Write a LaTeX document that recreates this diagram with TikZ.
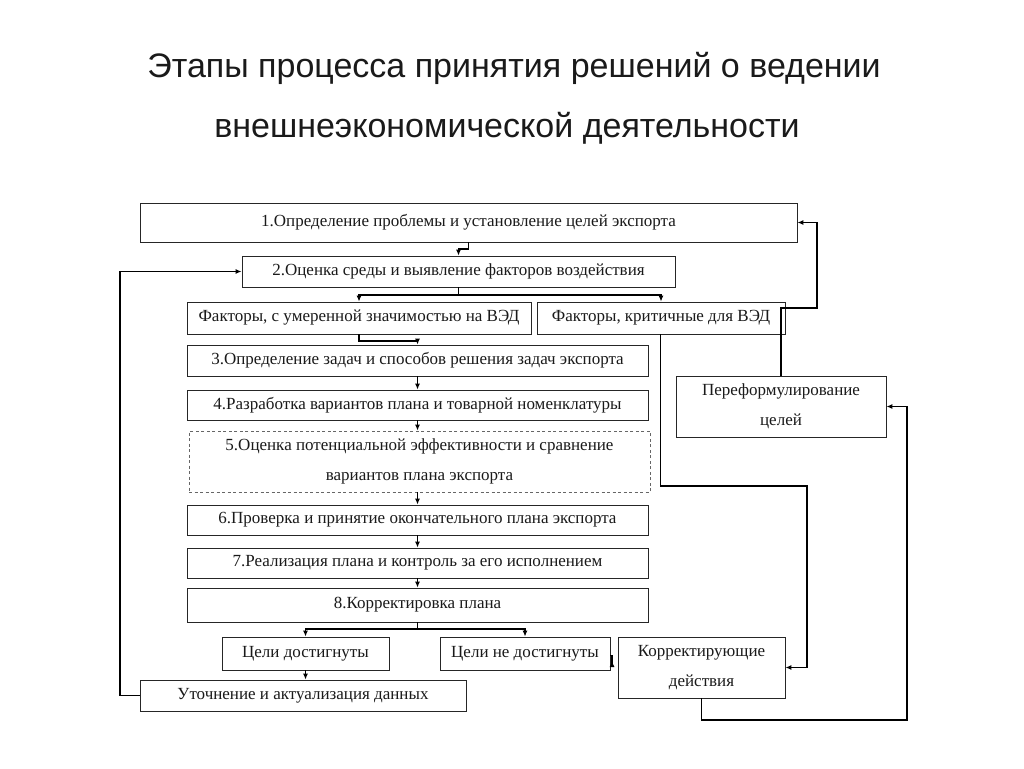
\documentclass[tikz,border=0pt]{standalone}
\usepackage{fontspec}
\setmainfont{Liberation Serif}
\newfontfamily\titlefont{Liberation Sans}
\usetikzlibrary{arrows.meta}
\definecolor{ink}{HTML}{1A1A1A}
\tikzset{
  box/.style={draw=black!85, line width=0.9pt, inner sep=0pt, align=center, text=ink,
    font=\fontsize{17}{30}\selectfont},
  dbox/.style={box, draw=black!60, dash pattern=on 3pt off 2.5pt},
  conn/.style={draw=black, line width=1.1pt},
  arr/.style={conn, -{Latex[length=6pt,width=5pt]}},
  rarr/.style={conn, -{Latex[length=6pt,width=5pt,reversed]}},
  ttl/.style={font=\titlefont\fontsize{34}{38}\selectfont, text=ink, inner sep=0pt}
}
\begin{document}
\begin{tikzpicture}[x=1pt,y=-1pt]
\useasboundingbox[fill=white] (0,0) rectangle (1024,768);
% title
\node[ttl] (t1) at (514,68) {Этапы процесса принятия решений о ведении};
\node[ttl] (t2) at (507,128) {внешнеэкономической деятельности};
% boxes
\node[box, minimum width=657, minimum height=39] (b1) at (468.5,222.5) {1.Определение проблемы и установление целей экспорта};
\node[box, minimum width=433, minimum height=31] (b2) at (458.5,271.5) {2.Оценка среды и выявление факторов воздействия};
\node[box, minimum width=344, minimum height=32] (fL) at (359,318) {Факторы, с умеренной значимостью на ВЭД};
\node[box, minimum width=248, minimum height=32] (fR) at (661,318) {Факторы, критичные для ВЭД};
\node[box, minimum width=461, minimum height=31] (b3) at (417.5,360.5) {3.Определение задач и способов решения задач экспорта};
\node[box, minimum width=461, minimum height=30] (b4) at (417.5,405) {4.Разработка вариантов плана и товарной номенклатуры};
\node[dbox, minimum width=461, minimum height=61] (b5) at (419.5,461.5) {5.Оценка потенциальной эффективности и сравнение\\вариантов плана экспорта};
\node[box, minimum width=461, minimum height=30] (b6) at (417.5,520) {6.Проверка и принятие окончательного плана экспорта};
\node[box, minimum width=461, minimum height=30] (b7) at (417.5,563) {7.Реализация плана и контроль за его исполнением};
\node[box, minimum width=461, minimum height=34] (b8) at (417.5,605) {8.Корректировка плана};
\node[box, minimum width=167, minimum height=33] (g1) at (305.5,653.5) {Цели достигнуты};
\node[box, minimum width=170, minimum height=33] (g2) at (525,653.5) {Цели не достигнуты};
\node[box, minimum width=326, minimum height=31] (u) at (303,695.5) {Уточнение и актуализация данных};
\node[box, minimum width=167, minimum height=61] (k) at (701.5,667.5) {Корректирующие\\действия};
\node[box, minimum width=210, minimum height=61] (p) at (781,406.5) {Переформулирование\\целей};
% helper coordinates
\coordinate (j1) at (468.5,249);
\coordinate (bar2) at (458.5,295);
\coordinate (j3) at (359,341);
\coordinate (bar8) at (417.5,629);
\coordinate (lft) at (120,695.5);
\coordinate (gn) at (612,667);
\coordinate (r1) at (807,486);
\coordinate (r2) at (817,308);
\coordinate (r3) at (907,720);
% connectors
\draw[arr] (b1.south) -- (j1) -| (b2.north);
\draw[conn] (b2.south) -- (bar2);
\draw[arr] (bar2) -| (fL.north);
\draw[arr] (bar2) -| (fR.north);
\draw[arr] (fL.south) -- (j3) -| (b3.north);
\draw[arr] (b3.south) -- (b4.north);
\draw[arr] (b4.south) -- (b4.south |- b5.north);
\draw[arr] (b5.south -| b6.north) -- (b6.north);
\draw[arr] (b6.south) -- (b7.north);
\draw[arr] (b7.south) -- (b8.north);
\draw[conn] (b8.south) -- (bar8);
\draw[arr] (bar8) -| (g1.north);
\draw[arr] (bar8) -| (g2.north);
\draw[arr] (g1.south) -- (g1.south |- u.north);
\draw[arr] (u.west) -- (lft) |- (b2.west);
\draw[rarr] ([yshift=-2pt]g2.east) -| (gn);
\draw[arr] ([xshift=-0.3pt]fR.south) |- (r1) |- (k.east);
\draw[arr] (p.north) |- (r2) |- (b1.east);
\draw[arr] (k.south) |- (r3) |- (p.east);
\end{tikzpicture}
\end{document}
